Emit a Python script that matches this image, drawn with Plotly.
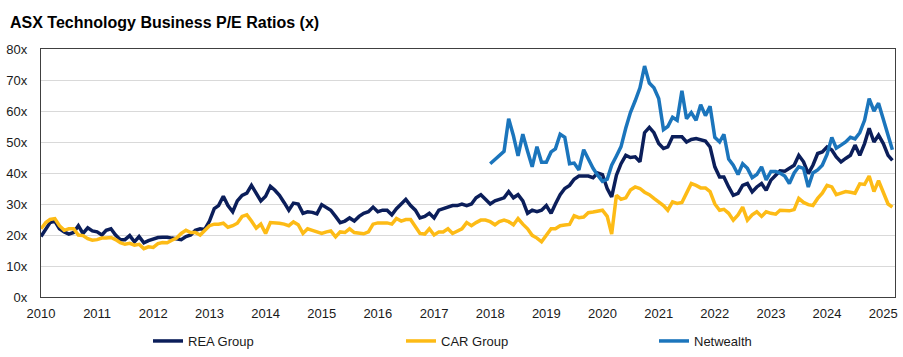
import pandas as pd
import plotly.graph_objects as go

# Monthly observations, Jan 2010 .. Mar 2025
months = pd.date_range("2010-01-01", periods=183, freq="MS")

rea_group = [
    19.5, 22, 24, 24.5, 22, 21, 20.3, 20.8, 23, 20.5, 22.3, 21.3,
    21, 20, 21.5, 22, 20, 18.5, 18.5, 19.8, 17.8, 19.5, 17.5, 18.2,
    18.8, 19.2, 19.3, 19.3, 19, 18.8, 18.5, 19.5, 20, 21.5, 22, 21.8,
    24.5, 28.5, 29.5, 32.5, 29.5, 27.5, 31, 32.8, 33.5, 36, 33.5, 31,
    32.5, 35.7, 34.5, 32.8, 30.5, 28, 30.3, 30, 27, 27.5, 27.3, 26.8,
    29.8, 29, 28, 26, 24, 24.5, 25.5, 24.5, 26, 27, 27.5, 29,
    27.5, 28, 28, 26.5, 28.5, 30, 31.5, 29.5, 28, 25.5, 26, 27,
    25.5, 28, 28.5, 29, 29.5, 29.5, 30, 29.5, 30, 32, 33, 31.5,
    30, 31, 31.5, 32, 34, 32, 33, 31, 27, 28, 27.5, 28,
    29.5, 27, 30, 33, 35, 36, 38, 39, 39, 39, 38.5, 40,
    39.5, 35, 32.3, 39.3, 43, 45.7, 45, 45.2, 43.6, 53, 54.7, 53,
    49.5, 47.9, 48.4, 51.7, 51.7, 51.7, 50, 50.8, 51.1, 50.6, 50.3, 48.4,
    42, 38.7, 38.7, 35.5, 32.8, 33.4, 36, 36.6, 33.9, 35.5, 36.6, 34.4,
    37.7, 39.3, 40.7, 40.6, 41.4, 42.5, 45.7, 43.6, 39.8, 42.5, 46.3, 46.8,
    48.4, 47.4, 45.2, 43.6, 44.7, 45.7, 49, 45.7, 49.5, 54.4, 50, 52.2,
    49.5, 45.7, 44.1,
]

car_group = [
    22, 24, 25, 25.3, 23, 21.5, 22, 22, 20, 19.8, 18.8, 18.3,
    18.5, 19, 19, 19.2, 18.5, 17.5, 17, 17.3, 16.7, 17, 15.6, 16.2,
    16, 17.2, 17.6, 17.5, 18.3, 19, 20.5, 21.5, 20.8, 20.8, 20, 21.5,
    23, 23.5, 23.5, 23.8, 22.5, 23, 23.8, 26, 26.5, 24.5, 22.2, 23.5,
    20.5, 24, 24, 23.8, 23.5, 23, 24.2, 23.3, 20.5, 22, 21.5, 21,
    20.5, 21, 21.3, 19.4, 21, 20.8, 22, 20.8, 20.6, 20.4, 21, 23.5,
    23.9, 23.9, 23.9, 23.5, 25.3, 24.5, 25, 25, 22.5, 20.5, 20.3, 22,
    20, 21, 21, 22, 20.5, 21.3, 22, 24, 23, 24, 24.8, 24.8,
    24.3, 23.3, 24.3, 24.8, 24.3, 23.3, 25.3, 23.5, 22, 19.9, 19, 17.8,
    20, 22, 22, 23, 23.2, 23.4, 26.2, 25.6, 25.8, 27.2, 27.4, 27.8,
    28, 26, 20.3, 32.8, 31.5, 32, 34.5, 35.5, 35, 33.8, 33, 31.8,
    30.8, 29.5, 28, 30.7, 30.2, 30.5, 33.5, 36.6, 36, 35.2, 35.2, 34,
    30, 28, 28.3, 27, 24.8, 26.5, 29, 24.8, 26.5, 27.5, 26, 27.5,
    27, 26.7, 28, 27.8, 27.8, 28.2, 31.8, 30.5, 29.8, 29.5, 31.8, 33.5,
    36, 35.5, 33, 33.5, 34, 33.8, 33.5, 36.5, 36.3, 39, 34, 37.5,
    34, 30, 29,
]

netwealth = [None] * 96 + [
    43, 44.5, 45.5, 47, 57.5, 52, 45.5, 52.5, 47, 42, 48.5, 43.5,
    43.5, 46.8, 47.8, 52.5, 51.5, 43, 43.2, 41, 47.5, 44.5, 41.5, 39.3,
    37.3, 38, 42.5, 45.5, 48.5, 54.5, 59.5, 63.3, 67.5, 74.5, 69, 67.5,
    64, 54, 55, 58, 57, 66.5, 57.5, 59.5, 57, 62, 58.5, 61.5,
    51.5, 50, 52.5, 44.5, 42.5, 39.5, 43, 41.5, 38.5, 39.5, 42, 37.8,
    40.5, 40.5, 40, 39, 36.6, 40, 42, 41.5, 35.5, 40, 41, 42.5,
    46, 51.5, 48, 49, 50, 51.5, 51, 53, 57, 64, 60, 62.5,
    57, 51.5, 47.5,
]

series_names = ["REA Group", "CAR Group", "Netwealth"]
series_colors = ["#0b1e5a", "#fdbb16", "#1b75bc"]
series_values = [rea_group, car_group, netwealth]

FONT = "Liberation Sans, Arial, sans-serif"

fig = go.Figure()
for name, color, vals in zip(series_names, series_colors, series_values):
    fig.add_trace(go.Scatter(
        x=months, y=vals, name=name, mode="lines",
        line=dict(color=color, width=3.5),
        connectgaps=False,
    ))

fig.update_layout(
    width=903, height=357,
    margin=dict(l=41, r=8, t=49, b=60, autoexpand=False),
    paper_bgcolor="white", plot_bgcolor="white",
    font=dict(family=FONT, size=13, color="#1a1a1a"),
    title=dict(
        text="<b>ASX Technology Business P/E Ratios (x)</b>",
        x=10 / 903, xanchor="left", xref="container",
        y=1 - 22 / 357, yanchor="middle", yref="container",
        font=dict(family=FONT, size=16, color="#000000"),
    ),
    showlegend=True,
    legend=dict(
        orientation="h",
        xref="container", x=148 / 903, xanchor="left",
        yref="container", y=(357 - 341) / 357, yanchor="middle",
        entrywidth=208, entrywidthmode="pixels",
        font=dict(family=FONT, size=13, color="#1a1a1a"),
        itemwidth=30,
        traceorder="normal",
    ),
)

fig.update_xaxes(
    type="date",
    range=["2010-01-01", "2025-03-18"],
    dtick="M12", tick0="2010-01-01", tickformat="%Y",
    showgrid=False, ticks="outside", ticklen=4, tickcolor="rgba(0,0,0,0)",
    showline=True, linecolor="#404040", linewidth=1.3, mirror=True,
    automargin=False,
    tickfont=dict(family=FONT, size=13, color="#1a1a1a"),
)
fig.update_yaxes(
    range=[0, 80], dtick=10, ticksuffix="x",
    showgrid=True, gridcolor="#d9d9d9", gridwidth=1,
    zeroline=False, ticks="outside", ticklen=10, tickcolor="rgba(0,0,0,0)",
    showline=True, linecolor="#404040", linewidth=1.3, mirror=True,
    automargin=False,
    tickfont=dict(family=FONT, size=13, color="#1a1a1a"),
)

fig.write_html(
    "out.html",
    config={"displayModeBar": False},
    post_script="document.body.style.margin='0';document.body.style.padding='0';",
)
